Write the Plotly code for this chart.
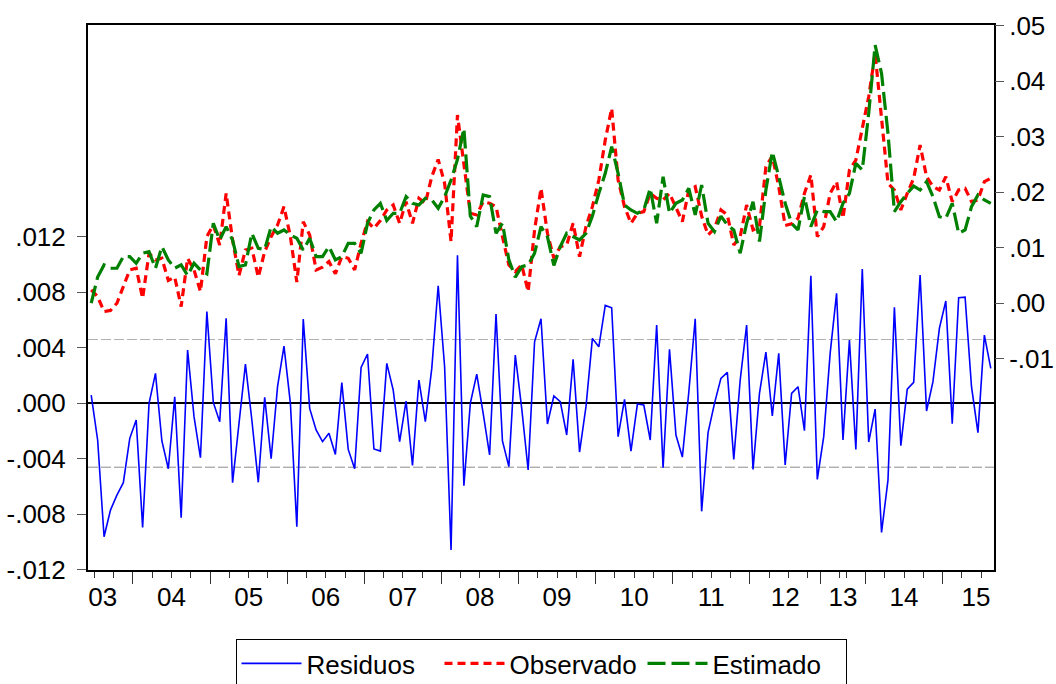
import plotly.graph_objects as go

# ---------------- data ----------------
residuos = [
    0.0006, -0.00264, -0.00961, -0.00769, -0.00661, -0.00572, -0.00252, -0.0012, -0.00894, 0.0,
    0.00216, -0.00271, -0.00471, 0.00048, -0.00824, 0.00384, -0.00096, -0.00392, 0.00661, 0.00007,
    -0.00132, 0.00613, -0.00572, -0.00144, 0.00283, -0.0012, -0.00569, 0.00043, -0.00399, 0.0012,
    0.00413, 0.0, -0.00889, 0.00608, -0.00036, -0.00192, -0.00276, -0.00216, -0.00368, 0.00149,
    -0.00332, -0.00471, 0.00259, 0.00356, -0.00329, -0.00344, 0.00288, 0.00096, -0.00276, 0.00017,
    -0.00447, 0.00168, -0.00132, 0.00252, 0.00848, 0.00264, -0.01057, 0.01067, -0.00593, 0.0,
    0.00211, -0.00072, -0.00372, 0.00644, -0.00271, -0.00456, 0.00348, -0.00036, -0.0048, 0.00444,
    0.0061, -0.00149, 0.00053, 0.00012, -0.00228, 0.00317, -0.00351, -0.00024, 0.00468, 0.00408,
    0.00706, 0.00689, -0.0024, 0.00029, -0.00344, -0.00005, -0.00012, -0.00264, 0.00565, -0.00464,
    0.00389, -0.00228, -0.00387, 0.0008, 0.0061, -0.00778, -0.00211, 0.0, 0.0018, 0.00223,
    -0.00404, 0.00168, 0.00565, -0.00476, 0.00072, 0.0037, -0.00091, 0.0036, -0.00444, 0.00072,
    0.0012, -0.00197, 0.0092, -0.00548, -0.0024, 0.0036, 0.00793, -0.00264, 0.00456, -0.00332,
    0.00968, -0.00279, -0.00041, -0.0093, -0.00553, 0.00692, -0.00305, 0.00103, 0.00151, 0.00925,
    -0.00055, 0.00156, 0.00541, 0.00738, -0.00147, 0.00762, 0.00766, 0.0012, -0.00211, 0.00492,
    0.00252,
]

observado = [
    0.0024, 0.0012, -0.0015, -0.0013, 0.0000, 0.0030, 0.0060, 0.0063, 0.0009, 0.0090,
    0.0078, 0.0081, 0.0041, 0.0047, -0.0006, 0.0081, 0.0060, 0.0021, 0.0120, 0.0141,
    0.0105, 0.0198, 0.0114, 0.0050, 0.0096, 0.0099, 0.0047, 0.0093, 0.0120, 0.0141,
    0.0174, 0.0120, 0.0038, 0.0147, 0.0123, 0.0060, 0.0065, 0.0075, 0.0053, 0.0084,
    0.0081, 0.0060, 0.0108, 0.0147, 0.0135, 0.0149, 0.0168, 0.0177, 0.0144, 0.0183,
    0.0144, 0.0189, 0.0180, 0.0228, 0.0259, 0.0216, 0.0111, 0.0339, 0.0249, 0.0162,
    0.0159, 0.0183, 0.0180, 0.0174, 0.0120, 0.0069, 0.0057, 0.0069, 0.0021, 0.0132,
    0.0207, 0.0126, 0.0081, 0.0102, 0.0105, 0.0144, 0.0084, 0.0138, 0.0174, 0.0222,
    0.0294, 0.0351, 0.0222, 0.0174, 0.0144, 0.0162, 0.0165, 0.0198, 0.0189, 0.0186,
    0.0198, 0.0171, 0.0147, 0.0204, 0.0210, 0.0157, 0.0123, 0.0135, 0.0168, 0.0159,
    0.0105, 0.0120, 0.0177, 0.0132, 0.0138, 0.0246, 0.0265, 0.0210, 0.0140, 0.0143,
    0.0153, 0.0198, 0.0231, 0.0120, 0.0138, 0.0198, 0.0219, 0.0153, 0.0240, 0.0258,
    0.0318, 0.0372, 0.0450, 0.0336, 0.0216, 0.0204, 0.0168, 0.0198, 0.0225, 0.0285,
    0.0228, 0.0210, 0.0204, 0.0228, 0.0183, 0.0204, 0.0207, 0.0183, 0.0186, 0.0219,
    0.0225,
]

estimado = [
    0.0000, 0.0047, 0.0069, 0.0063, 0.0063, 0.0084, 0.0084, 0.0072, 0.0090, 0.0093,
    0.0063, 0.0102, 0.0078, 0.0063, 0.0069, 0.0050, 0.0072, 0.0060, 0.0053, 0.0144,
    0.0114, 0.0138, 0.0114, 0.0066, 0.0069, 0.0126, 0.0099, 0.0097, 0.0138, 0.0126,
    0.0132, 0.0123, 0.0117, 0.0096, 0.0117, 0.0084, 0.0084, 0.0102, 0.0078, 0.0084,
    0.0108, 0.0108, 0.0090, 0.0144, 0.0168, 0.0180, 0.0149, 0.0162, 0.0162, 0.0192,
    0.0180, 0.0177, 0.0189, 0.0186, 0.0171, 0.0192, 0.0222, 0.0259, 0.0315, 0.0157,
    0.0138, 0.0195, 0.0192, 0.0126, 0.0144, 0.0078, 0.0047, 0.0066, 0.0069, 0.0090,
    0.0138, 0.0120, 0.0068, 0.0102, 0.0126, 0.0120, 0.0114, 0.0126, 0.0157, 0.0198,
    0.0234, 0.0282, 0.0234, 0.0177, 0.0168, 0.0162, 0.0168, 0.0207, 0.0144, 0.0228,
    0.0162, 0.0180, 0.0186, 0.0207, 0.0159, 0.0213, 0.0144, 0.0129, 0.0157, 0.0141,
    0.0132, 0.0090, 0.0144, 0.0183, 0.0111, 0.0204, 0.0273, 0.0228, 0.0180, 0.0144,
    0.0132, 0.0192, 0.0138, 0.0168, 0.0165, 0.0165, 0.0147, 0.0180, 0.0198, 0.0252,
    0.0240, 0.0342, 0.0465, 0.0414, 0.0306, 0.0165, 0.0183, 0.0198, 0.0211, 0.0204,
    0.0219, 0.0192, 0.0156, 0.0153, 0.0180, 0.0126, 0.0132, 0.0174, 0.0195, 0.0186,
    0.0180,
]

resid_se = 0.0046  # +/- 1 S.E. band of the residuals

year_labels = ["03", "04", "05", "06", "07", "08", "09", "10", "11", "12", "13", "14", "15"]
left_tick_vals = [-0.012, -0.008, -0.004, 0.0, 0.004, 0.008, 0.012]
left_tick_text = ["-.012", "-.008", "-.004", ".000", ".004", ".008", ".012"]
right_tick_vals = [-0.01, 0.0, 0.01, 0.02, 0.03, 0.04, 0.05]
right_tick_text = ["-.01", ".00", ".01", ".02", ".03", ".04", ".05"]

# ---------------- axis layout helpers (observation index axis) ----------------
obs = list(range(len(residuos)))
year_label_pos = [1.8, 12.5, 24.5, 36.5, 48.5, 60.5, 72.5, 84.5, 96.5, 108, 117, 126.5, 137.7]
year_tick_pos = [6.5, 18.5, 30.5, 42.5, 54.5, 66.5, 78.5, 90.5, 102.5, 113.5, 120.5, 132.5]
quarter_tick_pos = [0.5, 3.5, 9.5, 12.5, 15.5, 21.5, 24.5, 27.5, 33.5, 36.5, 39.5, 45.5, 48.5,
                    51.5, 57.5, 60.5, 63.5, 69.5, 72.5, 75.5, 81.5, 84.5, 87.5, 93.5, 96.5,
                    99.5, 105.5, 108.5, 111.5, 116.5, 117.5, 123.5, 126.5, 129.5, 135.5, 138.5]

FONT = "Liberation Sans, Arial, sans-serif"
FS = 26
xr = [-0.5, len(residuos) - 0.5]

fig = go.Figure()
fig.add_trace(go.Scatter(x=obs, y=residuos, name="Residuos", mode="lines",
                         line=dict(color="#0000FF", width=1.6), xaxis="x", yaxis="y"))
fig.add_trace(go.Scatter(x=obs, y=observado, name="Observado", mode="lines",
                         line=dict(color="#FF0000", width=3.2, dash="8px,5px"),
                         xaxis="x2", yaxis="y2"))
fig.add_trace(go.Scatter(x=obs, y=estimado, name="Estimado", mode="lines",
                         line=dict(color="#008000", width=3.2, dash="18px,6px"),
                         xaxis="x2", yaxis="y2"))

for v, c in [(resid_se, "#b0b0b0"), (-resid_se, "#8c8c8c")]:
    fig.add_shape(type="line", xref="paper", x0=0, x1=1, yref="y", y0=v, y1=v,
                  line=dict(color=c, width=1, dash="10px,3px"), layer="below")

fig.update_layout(
    width=1056, height=684,
    margin=dict(l=88, r=62, t=25, b=114, autoexpand=False),
    paper_bgcolor="white", plot_bgcolor="white",
    font=dict(family=FONT, size=FS, color="black"),
    showlegend=True,
    legend=dict(orientation="h", x=0.5, xanchor="center", xref="paper",
                y=1 - 639 / 684, yanchor="top", yref="container",
                bordercolor="black", borderwidth=1, font=dict(size=FS),
                itemwidth=60, entrywidth=128, entrywidthmode="pixels"),
    xaxis=dict(range=xr, showgrid=False, zeroline=False, automargin=False,
               showline=True, linecolor="black", linewidth=2, mirror=True,
               tickmode="array", tickvals=year_tick_pos, ticktext=[""] * len(year_tick_pos),
               ticks="outside", ticklen=12, tickwidth=1, tickcolor="#333333",
               minor=dict(tickmode="array", tickvals=quarter_tick_pos, ticks="outside",
                          ticklen=6, tickwidth=1, tickcolor="#333333", showgrid=False)),
    xaxis2=dict(range=xr, overlaying="x", anchor="y2", side="bottom", matches="x",
                showgrid=False, zeroline=False, showline=False, automargin=False,
                tickmode="array", tickvals=year_label_pos, ticktext=year_labels,
                ticks="", ticklabelstandoff=9, tickfont=dict(size=FS)),
    yaxis=dict(range=[-0.01201, 0.02727], showgrid=False, automargin=False,
               zeroline=True, zerolinecolor="black", zerolinewidth=1.6,
               showline=True, linecolor="black", linewidth=2, mirror=True,
               tickmode="array", tickvals=left_tick_vals, ticktext=left_tick_text,
               ticks="outside", ticklen=9, tickcolor="#555555", ticklabelstandoff=6,
               tickfont=dict(size=FS)),
    yaxis2=dict(range=[-0.04807, 0.05013], overlaying="y", side="right", anchor="x2",
                showgrid=False, zeroline=False, showline=False, automargin=False,
                tickmode="array", tickvals=right_tick_vals, ticktext=right_tick_text,
                ticks="outside", ticklen=9, tickcolor="#555555", ticklabelstandoff=0,
                tickfont=dict(size=FS)),
)

fig.write_html("out.html")
